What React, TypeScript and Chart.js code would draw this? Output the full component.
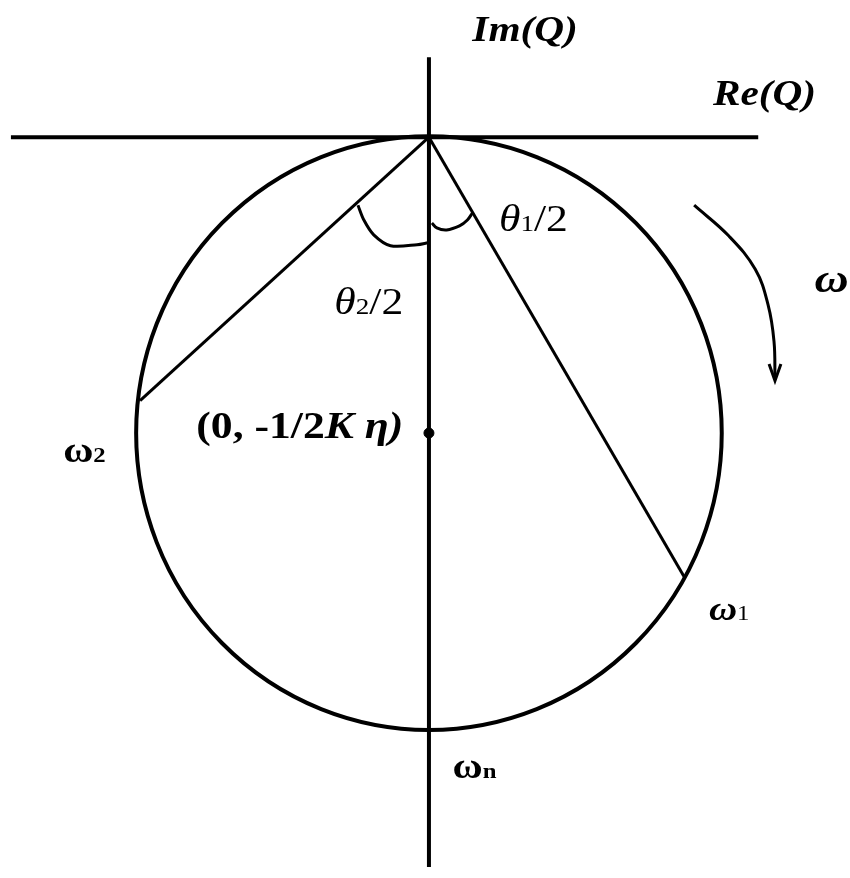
import React, { useEffect, useRef } from "react";
import { Chart, registerables } from "chart.js";

Chart.register(...registerables);

// Geometry in the Q-plane (units: chart data units, origin at Re/Im crossing)
const RE_AXIS = [{ x: -424, y: 0 }, { x: 334, y: 0 }];
const IM_AXIS = [{ x: 0, y: 81 }, { x: 0, y: -740 }];
const CIRCLE_CENTER = { x: 0, y: -300 };
const CIRCLE_RX = 297;
const CIRCLE_RY = 301;
const OMEGA2_POINT = { x: -293, y: -267 };
const OMEGA1_POINT = { x: 259, y: -446 };
const THETA2_ARC = [
  { x: -72, y: -69 }, { x: -66, y: -84 }, { x: -56, y: -99 },
  { x: -39, y: -110 }, { x: -12, y: -109 }, { x: -1, y: -107 },
];
const THETA1_ARC = [
  { x: 3, y: -87 }, { x: 8, y: -92 }, { x: 18, y: -94 },
  { x: 31, y: -90 }, { x: 39, y: -84 }, { x: 44, y: -77 },
];
const OMEGA_ARROW = [
  { x: 269, y: -69 }, { x: 304, y: -100 }, { x: 331, y: -134 },
  { x: 344, y: -170 }, { x: 350, y: -207 }, { x: 351, y: -246 },
];
const ARROW_HEAD = [{ x: 345, y: -230 }, { x: 351, y: -247 }, { x: 357, y: -230 }];

type Seg = { t: string; font: string; dy?: number };
type Label = { x: number; y: number; segs: Seg[] };

const SERIF = '"Liberation Serif", "DejaVu Serif", serif';
const TEXT_STRETCH = 1.18;
const LABELS: Label[] = [
  { x: 44, y: 98, segs: [{ t: "Im(Q)", font: `italic bold 35px ${SERIF}` }] },
  { x: 288, y: 33, segs: [{ t: "Re(Q)", font: `italic bold 35px ${SERIF}` }] },
  {
    x: 71, y: -95, segs: [
      { t: "θ", font: `italic 37px ${SERIF}` },
      { t: "1", font: `23px ${SERIF}` },
      { t: "/2", font: `37px ${SERIF}` },
    ],
  },
  {
    x: -96, y: -179, segs: [
      { t: "θ", font: `italic 37px ${SERIF}` },
      { t: "2", font: `23px ${SERIF}` },
      { t: "/2", font: `37px ${SERIF}` },
    ],
  },
  { x: 391, y: -157, segs: [{ t: "ω", font: `italic bold 40px ${SERIF}` }] },
  {
    x: 284, y: -490, segs: [
      { t: "ω", font: `italic bold 33px ${SERIF}` },
      { t: "1", font: `21px ${SERIF}` },
    ],
  },
  {
    x: 24, y: -650, segs: [
      { t: "ω", font: `bold 35px ${SERIF}` },
      { t: "n", font: `bold 21px ${SERIF}` },
    ],
  },
  {
    x: -371, y: -329, segs: [
      { t: "ω", font: `bold 35px ${SERIF}` },
      { t: "2", font: `bold 21px ${SERIF}` },
    ],
  },
  {
    x: -236, y: -305, segs: [
      { t: "(0, -1/2", font: `bold 37px ${SERIF}` },
      { t: "K", font: `italic bold 37px ${SERIF}` },
      { t: " η)", font: `italic bold 37px ${SERIF}` },
    ],
  },
];

const line = (data: { x: number; y: number }[], width: number, tension = 0) => ({
  data,
  showLine: true,
  borderColor: "#000",
  borderWidth: width,
  pointRadius: 0,
  tension,
  fill: false,
  clip: false as const,
});

const overlayPlugin = {
  id: "overlay",
  beforeDatasetsDraw(chart: any) {
    const { ctx, scales } = chart;
    const xs = scales.x, ys = scales.y;
    const cx = xs.getPixelForValue(CIRCLE_CENTER.x);
    const cy = ys.getPixelForValue(CIRCLE_CENTER.y);
    const rx = Math.abs(xs.getPixelForValue(CIRCLE_CENTER.x + CIRCLE_RX) - cx);
    const ry = Math.abs(ys.getPixelForValue(CIRCLE_CENTER.y + CIRCLE_RY) - cy);
    ctx.save();
    ctx.strokeStyle = "#000";
    ctx.lineWidth = 4;
    ctx.beginPath();
    ctx.ellipse(cx, cy, rx, ry, 0, 0, Math.PI * 2);
    ctx.stroke();
    ctx.restore();
  },
  afterDatasetsDraw(chart: any) {
    const { ctx, scales } = chart;
    ctx.save();
    ctx.fillStyle = "#000";
    ctx.textBaseline = "alphabetic";
    ctx.textAlign = "left";
    for (const lab of LABELS) {
      const px0 = scales.x.getPixelForValue(lab.x);
      const py = scales.y.getPixelForValue(lab.y);
      ctx.save();
      ctx.translate(px0, py);
      ctx.scale(TEXT_STRETCH, 1);
      let px = 0;
      for (const s of lab.segs) {
        ctx.font = s.font;
        ctx.fillText(s.t, px, s.dy || 0);
        px += ctx.measureText(s.t).width;
      }
      ctx.restore();
    }
    ctx.restore();
  },
};

export default function App() {
  const ref = useRef<HTMLCanvasElement>(null);
  useEffect(() => {
    if (!ref.current) return;
    const chart = new Chart(ref.current, {
      type: "scatter",
      data: {
        datasets: [
          line(RE_AXIS, 4),
          line(IM_AXIS, 4),
          line([{ x: 0, y: 0 }, OMEGA2_POINT], 3),
          line([{ x: 0, y: 0 }, OMEGA1_POINT], 3),
          line(THETA2_ARC, 3, 0.3),
          line(THETA1_ARC, 3, 0.3),
          line(OMEGA_ARROW, 3, 0.4),
          line(ARROW_HEAD, 3),
          {
            data: [CIRCLE_CENTER],
            pointRadius: 5,
            pointBackgroundColor: "#000",
            pointBorderColor: "#000",
            showLine: false,
            clip: false as const,
          },
        ],
      },
      options: {
        animation: false,
        responsive: false,
        maintainAspectRatio: false,
        layout: { padding: 0 },
        plugins: { legend: { display: false }, tooltip: { enabled: false } },
        scales: {
          x: { type: "linear", min: -429, max: 421, display: false },
          y: { type: "linear", min: -745, max: 133, display: false },
        },
      },
      plugins: [overlayPlugin],
    } as any);
    return () => chart.destroy();
  }, []);
  return (
    <div style={{ position: "fixed", left: 0, top: 0, width: 850, height: 878, background: "#fff" }}>
      <canvas ref={ref} width={850} height={878} />
    </div>
  );
}
